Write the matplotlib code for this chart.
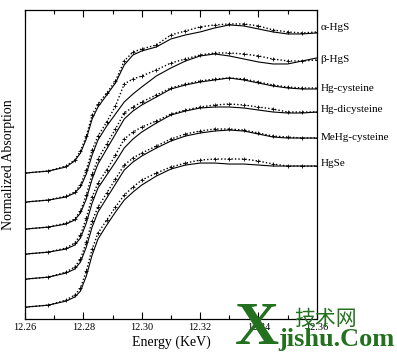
import numpy as np
import matplotlib
matplotlib.use("Agg")
import matplotlib.pyplot as plt
from matplotlib.ticker import MultipleLocator

plt.rcParams['font.family'] = ['Liberation Serif', 'DejaVu Serif']

energy = [12.260, 12.268, 12.274, 12.277, 12.279, 12.281, 12.283, 12.285,
          12.288, 12.291, 12.294, 12.297, 12.300, 12.305, 12.310, 12.315,
          12.320, 12.325, 12.330, 12.335, 12.340, 12.345, 12.350, 12.355, 12.360]

names = ['\u03b1-HgS', '\u03b2-HgS', 'Hg-cysteine', 'Hg-dicysteine',
         'MeHg-cysteine', 'HgSe']

# measured spectra (dotted) and fits (solid), normalized absorption
a_hgs_data = [0, 0.02, 0.07, 0.13, 0.22, 0.37, 0.58, 0.69, 0.80, 0.92, 1.12, 1.21, 1.24,
              1.28, 1.38, 1.42, 1.46, 1.48, 1.49, 1.49, 1.47, 1.43, 1.41, 1.40, 1.41]
a_hgs_fit = [0, 0.02, 0.06, 0.12, 0.20, 0.34, 0.54, 0.66, 0.78, 0.90, 1.08, 1.18, 1.22,
             1.26, 1.34, 1.38, 1.41, 1.45, 1.48, 1.47, 1.44, 1.41, 1.39, 1.39, 1.40]
b_hgs_data = [0, 0.02, 0.06, 0.10, 0.17, 0.32, 0.52, 0.66, 0.80, 0.96, 1.18, 1.23, 1.26,
              1.32, 1.39, 1.43, 1.47, 1.49, 1.49, 1.48, 1.46, 1.43, 1.41, 1.41, 1.42]
b_hgs_fit = [0, 0.02, 0.05, 0.09, 0.15, 0.28, 0.47, 0.62, 0.76, 0.88, 1.00, 1.08, 1.15,
             1.26, 1.34, 1.41, 1.46, 1.48, 1.46, 1.43, 1.40, 1.38, 1.38, 1.41, 1.44]
cys_data = [0, 0.02, 0.06, 0.10, 0.18, 0.34, 0.55, 0.70, 0.85, 1.00, 1.16, 1.22, 1.27,
            1.34, 1.41, 1.45, 1.48, 1.50, 1.51, 1.50, 1.47, 1.44, 1.42, 1.41, 1.41]
cys_fit = [0, 0.02, 0.05, 0.09, 0.16, 0.30, 0.50, 0.65, 0.80, 0.95, 1.10, 1.18, 1.24,
           1.32, 1.40, 1.44, 1.47, 1.49, 1.51, 1.49, 1.46, 1.43, 1.41, 1.40, 1.40]
dicys_data = [0, 0.02, 0.06, 0.11, 0.19, 0.36, 0.57, 0.71, 0.84, 0.99, 1.15, 1.22, 1.27,
              1.33, 1.40, 1.44, 1.47, 1.49, 1.50, 1.49, 1.47, 1.45, 1.42, 1.42, 1.42]
dicys_fit = [0, 0.02, 0.05, 0.09, 0.16, 0.31, 0.51, 0.66, 0.79, 0.92, 1.06, 1.15, 1.22,
             1.31, 1.39, 1.43, 1.46, 1.47, 1.47, 1.46, 1.44, 1.42, 1.41, 1.41, 1.42]
mehg_data = [0, 0.02, 0.07, 0.12, 0.20, 0.37, 0.58, 0.72, 0.86, 1.00, 1.14, 1.21, 1.26,
             1.33, 1.40, 1.45, 1.48, 1.50, 1.50, 1.49, 1.46, 1.43, 1.42, 1.41, 1.41]
mehg_fit = [0, 0.02, 0.06, 0.10, 0.17, 0.32, 0.52, 0.67, 0.81, 0.95, 1.09, 1.17, 1.23,
            1.31, 1.38, 1.43, 1.46, 1.48, 1.49, 1.48, 1.45, 1.42, 1.41, 1.41, 1.41]
hgse_data = [0, 0.02, 0.07, 0.12, 0.19, 0.36, 0.58, 0.74, 0.87, 1.00, 1.12, 1.20, 1.27,
             1.34, 1.40, 1.44, 1.47, 1.48, 1.48, 1.48, 1.46, 1.43, 1.41, 1.41, 1.41]
hgse_fit = [0, 0.02, 0.06, 0.10, 0.16, 0.31, 0.52, 0.68, 0.82, 0.95, 1.07, 1.15, 1.22,
            1.31, 1.38, 1.42, 1.44, 1.44, 1.43, 1.43, 1.42, 1.41, 1.41, 1.41, 1.41]

data = [a_hgs_data, b_hgs_data, cys_data, dicys_data, mehg_data, hgse_data]
fits = [a_hgs_fit, b_hgs_fit, cys_fit, dicys_fit, mehg_fit, hgse_fit]

# vertical stacking of the spectra and label heights
offsets = [1.46, 1.17, 0.90, 0.65, 0.40, 0.12]
label_y = [2.91, 2.59, 2.30, 2.10, 1.82, 1.56]

fig = plt.figure(figsize=(3.97, 3.55), dpi=100)
ax = fig.add_axes([0.063, 0.101, 0.735, 0.871])

for d, f, off, name, ly in zip(data, fits, offsets, names, label_y):
    ax.plot(energy, np.array(f) + off, color='black', lw=0.8)
    ax.plot(energy, np.array(d) + off, color='black', lw=1.0, ls=(0, (1, 1.5)),
            marker='+', ms=3, mew=0.6)
    ax.text(12.3612, ly, name, fontsize=8, ha='left', va='center', clip_on=False)

ax.set_xlim(12.26, 12.36)
ax.set_ylim(0, 3.09)
ax.set_yticks([])
ax.xaxis.set_minor_locator(MultipleLocator(0.01))
ax.set_xticks(np.arange(12.26, 12.3601, 0.02))
ax.set_xticklabels(['12.26', '12.28', '12.30', '12.32', '12.34', '12.36'])
ax.tick_params(axis='x', which='both', direction='in', top=True, labelsize=7.5, pad=3)
ax.tick_params(axis='x', which='major', length=5, width=0.8)
ax.tick_params(axis='x', which='minor', length=3, width=0.8)
for s in ax.spines.values():
    s.set_linewidth(0.9)

ax.set_xlabel('Energy (KeV)', fontsize=10, labelpad=2)
ax.set_ylabel('Normalized Absorption', fontsize=10, labelpad=7)

# site watermark in the lower right corner
green = '#23701f'
fig.text(0.592, -0.005, 'X', color=green, fontsize=44, fontweight='bold',
         ha='left', va='bottom')
fig.text(0.70, 0.012, 'jishu.Com', color=green, fontsize=19, fontweight='bold',
         ha='left', va='bottom')
fig.text(0.742, 0.07, '技术网', color=green, fontsize=15,
         family=['Noto Sans CJK SC', 'DejaVu Sans'], ha='left', va='bottom')

fig.savefig('out.png', dpi=100)
